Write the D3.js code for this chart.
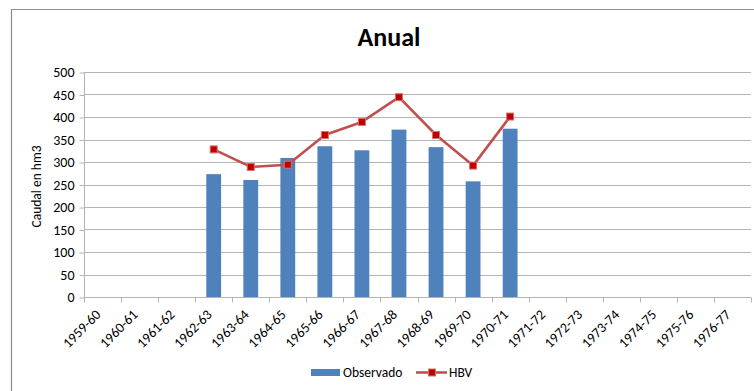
<!DOCTYPE html>
<html>
<head>
<meta charset="utf-8">
<script src="https://cdn.jsdelivr.net/npm/d3@7"></script>
<style>
  html, body { margin: 0; padding: 0; background: #fff; }
  svg { display: block; font-family: Carlito, Calibri, "Liberation Sans Narrow", "Open Sans", "Liberation Sans", sans-serif; }
</style>
</head>
<body>
<svg id="chart" width="754" height="391"></svg>
<script>
// Hydrological years on the x axis
const years = ["1959-60","1960-61","1961-62","1962-63","1963-64","1964-65","1965-66","1966-67","1967-68",
               "1968-69","1969-70","1970-71","1971-72","1972-73","1973-74","1974-75","1975-76","1976-77"];
// Observed annual flow (hm3); null where there is no record
const observado = [null,null,null,273,260,309,335,326,372,333,257,374,null,null,null,null,null,null];
// HBV simulated annual flow (hm3)
const hbv = [null,null,null,328,289,294,360,389,444,360,292,401,null,null,null,null,null,null];
const yTicks = [0,50,100,150,200,250,300,350,400,450,500];

const svg = d3.select("#chart");
const W = 754, H = 391;
const plot = { left: 84, right: 751, top: 72, bottom: 297 };
const FONT = "Carlito, Calibri, 'Liberation Sans Narrow', 'Open Sans', sans-serif";

// Outer chart frame (left and top edges visible)
svg.append("path")
  .attr("d", `M11.5,${H} L11.5,9.5 L${W},9.5`)
  .attr("fill", "none").attr("stroke", "#8c8c8c").attr("stroke-width", 1.2);

svg.append("text")
  .attr("x", 389).attr("y", 46)
  .attr("text-anchor", "middle")
  .attr("font-size", 26).attr("font-weight", "bold")
  .attr("fill", "#000")
  .text("Anual");

const x = d3.scaleBand().domain(years).range([plot.left, plot.right]).padding(0);
const y = d3.scaleLinear().domain([0, 500]).range([plot.bottom, plot.top]);

// Horizontal gridlines
svg.append("g").selectAll("line").data(yTicks.filter(d => d > 0)).join("line")
  .attr("x1", plot.left).attr("x2", plot.right)
  .attr("y1", d => Math.round(y(d)) + 0.5).attr("y2", d => Math.round(y(d)) + 0.5)
  .attr("stroke", "#b4b4b4").attr("stroke-width", 1);

// Y axis
const yAxis = svg.append("g").attr("transform", `translate(${plot.left + 0.5},0.5)`)
  .call(d3.axisLeft(y).tickValues(yTicks).tickSize(5).tickPadding(5));
yAxis.select(".domain").attr("stroke", "#b4b4b4").attr("d", `M-0,${plot.top}V${plot.bottom}`);
yAxis.selectAll(".tick line").attr("stroke", "#b4b4b4");
yAxis.selectAll(".tick text").attr("font-size", 14).attr("fill", "#000").attr("font-family", FONT);

// X axis with ticks at category boundaries
const xg = svg.append("g").attr("transform", `translate(0,${plot.bottom + 0.5})`);
xg.append("line").attr("x1", plot.left).attr("x2", plot.right).attr("stroke", "#b4b4b4");
const bounds = years.map(d => x(d)).concat([x(years[years.length - 1]) + x.bandwidth()]);
xg.selectAll("line.tk").data(bounds).join("line").attr("class", "tk")
  .attr("x1", d => Math.round(d) + 0.5).attr("x2", d => Math.round(d) + 0.5)
  .attr("y1", 0).attr("y2", 5).attr("stroke", "#b4b4b4");
xg.selectAll("text").data(years).join("text")
  .attr("transform", d => `translate(${x(d) + x.bandwidth() / 2 - 1},${18}) rotate(-45)`)
  .attr("text-anchor", "end")
  .attr("font-size", 14).attr("fill", "#000")
  .text(d => d);

// Y axis title
svg.append("text")
  .attr("transform", `translate(41,${(plot.top + plot.bottom) / 2 + 2}) rotate(-90)`)
  .attr("text-anchor", "middle").attr("font-size", 13.5).attr("fill", "#000")
  .text("Caudal en hm3");

// Observed bars
const barW = x.bandwidth() / 2.5;
svg.append("g").selectAll("rect")
  .data(years.map((d, i) => ({ k: d, v: observado[i] })).filter(d => d.v != null))
  .join("rect")
  .attr("x", d => x(d.k) + (x.bandwidth() - barW) / 2)
  .attr("width", barW)
  .attr("y", d => y(d.v))
  .attr("height", d => y(0) - y(d.v))
  .attr("fill", "#4f81bd");

// HBV line with square markers
const pts = years.map((d, i) => ({ k: d, v: hbv[i] })).filter(d => d.v != null);
const line = d3.line().x(d => x(d.k) + x.bandwidth() / 2).y(d => y(d.v));
svg.append("path").datum(pts).attr("d", line)
  .attr("fill", "none").attr("stroke", "#c0504d").attr("stroke-width", 2.6).attr("stroke-linejoin", "round");
svg.append("g").selectAll("rect").data(pts).join("rect")
  .attr("x", d => x(d.k) + x.bandwidth() / 2 - 3.5)
  .attr("y", d => y(d.v) - 3.5)
  .attr("width", 7).attr("height", 7)
  .attr("fill", "#c00000").attr("stroke", "#d9706d").attr("stroke-width", 1);

// Legend
const lg = svg.append("g");
lg.append("rect").attr("x", 311).attr("y", 369).attr("width", 29).attr("height", 7).attr("fill", "#4f81bd");
lg.append("text").attr("x", 343).attr("y", 377).attr("font-size", 13.5).attr("fill", "#000").text("Observado");
lg.append("line").attr("x1", 416).attr("x2", 447).attr("y1", 372.5).attr("y2", 372.5)
  .attr("stroke", "#c0504d").attr("stroke-width", 2.6);
lg.append("rect").attr("x", 428.5).attr("y", 369).attr("width", 7).attr("height", 7)
  .attr("fill", "#c00000").attr("stroke", "#d9706d").attr("stroke-width", 1);
lg.append("text").attr("x", 449).attr("y", 377).attr("font-size", 13.5).attr("fill", "#000").text("HBV");
</script>
</body>
</html>
